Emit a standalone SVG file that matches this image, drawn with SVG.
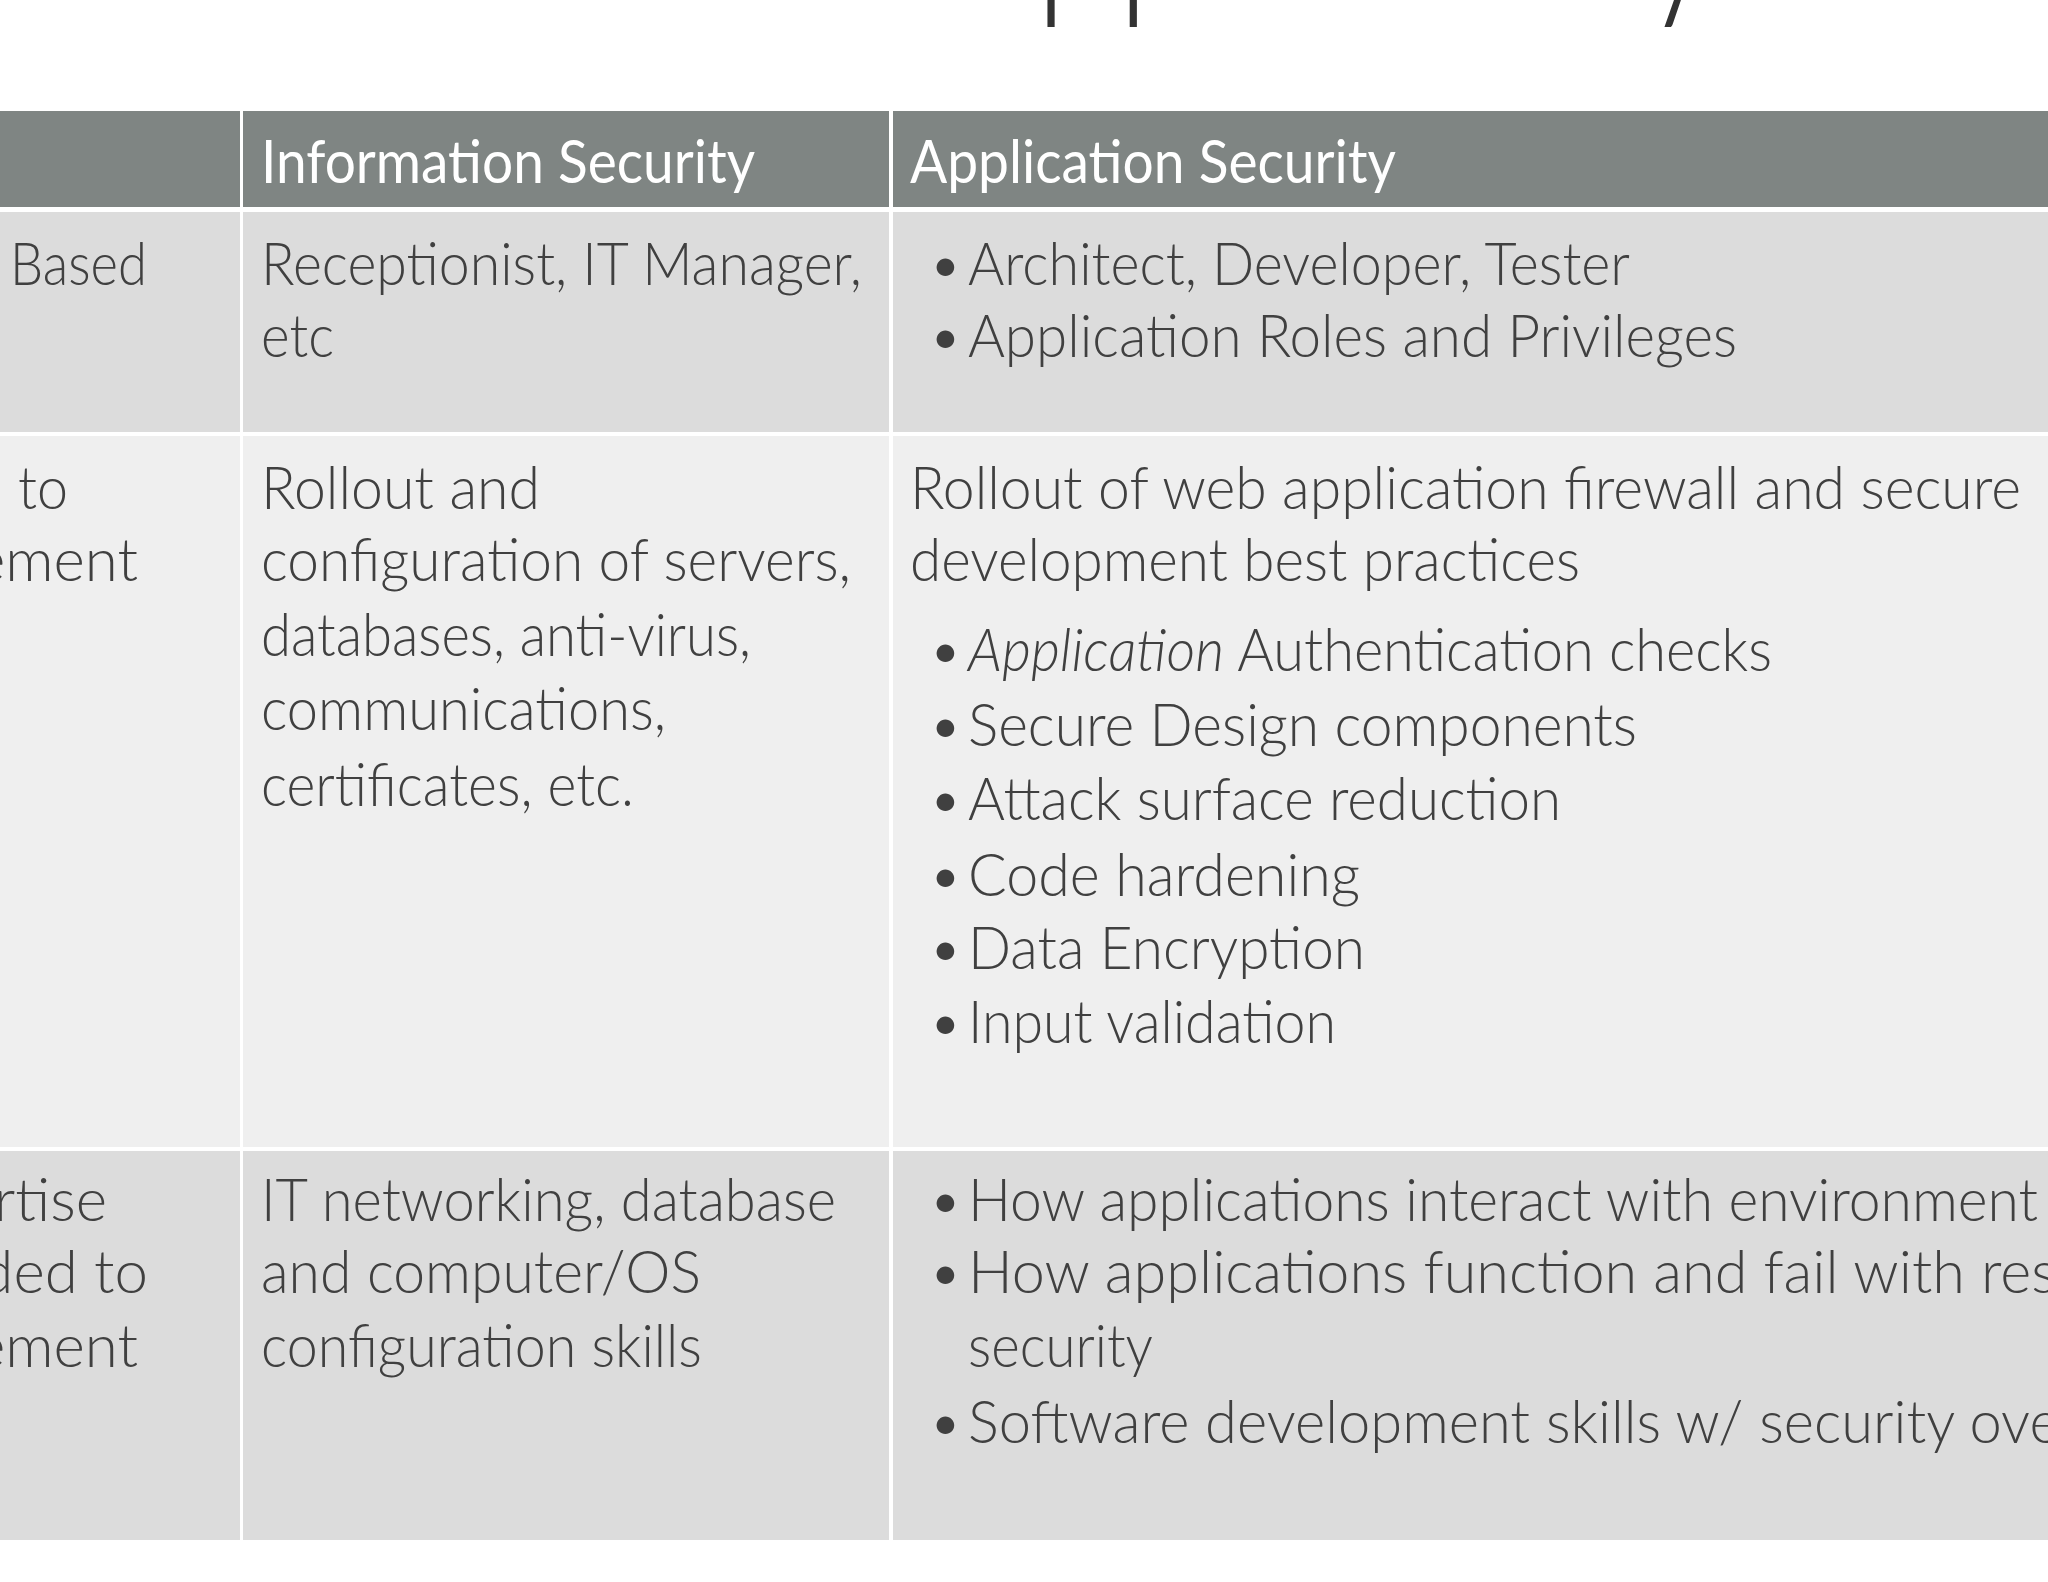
<svg xmlns="http://www.w3.org/2000/svg" width="2048" height="1582" viewBox="0 0 2048 1582">
<style>
text{font-family:Lato,"Open Sans","Liberation Sans",sans-serif;font-size:60px;fill:#404040;font-weight:300}
.h{fill:#ffffff;font-weight:400}
.d{fill:#dcdcdc}.l{fill:#efefef}
</style>
<rect width="2048" height="1582" fill="#fff"/>
<text x="993" y="-6" text-anchor="middle" style="font-size:190px;fill:#333" textLength="1450" lengthAdjust="spacingAndGlyphs">Infosec vs AppSecurity</text>
<g id="header">
<rect x="0" y="111" width="240" height="96" fill="#7f8583"/>
<rect x="243" y="111" width="646" height="96" fill="#7f8583"/>
<rect x="893" y="111" width="1155" height="96" fill="#7f8583"/>
<text class="h" x="261" y="183" textLength="494" lengthAdjust="spacingAndGlyphs">Information Security</text>
<text class="h" x="910" y="183" textLength="486" lengthAdjust="spacingAndGlyphs">Application Security</text>
</g>
<g id="row1">
<rect class="d" x="0" y="212" width="240" height="220"/>
<rect class="d" x="243" y="212" width="646" height="220"/>
<rect class="d" x="893" y="212" width="1155" height="220"/>
<text x="10" y="285" textLength="137" lengthAdjust="spacingAndGlyphs">Based</text>
<text x="261" y="285" textLength="601" lengthAdjust="spacingAndGlyphs">Receptionist, IT Manager,</text>
<text x="261" y="357" textLength="73" lengthAdjust="spacingAndGlyphs">etc</text>
<text x="928" y="285">•</text><text x="968" y="285" textLength="662" lengthAdjust="spacingAndGlyphs">Architect, Developer, Tester</text>
<text x="928" y="357">•</text><text x="968" y="357" textLength="769" lengthAdjust="spacingAndGlyphs">Application Roles and Privileges</text>
</g>
<g id="row2">
<rect class="l" x="0" y="436" width="240" height="711"/>
<rect class="l" x="243" y="436" width="646" height="711"/>
<rect class="l" x="893" y="436" width="1155" height="711"/>
<text x="18" y="509" textLength="50" lengthAdjust="spacingAndGlyphs">to</text>
<text x="138" y="581" text-anchor="end">ement</text>
<text x="261" y="509" textLength="279" lengthAdjust="spacingAndGlyphs">Rollout and</text>
<text x="261" y="581" textLength="590" lengthAdjust="spacingAndGlyphs">configuration of servers,</text>
<text x="261" y="656" textLength="490" lengthAdjust="spacingAndGlyphs">databases, anti-virus,</text>
<text x="261" y="730" textLength="405" lengthAdjust="spacingAndGlyphs">communications,</text>
<text x="261" y="806" textLength="373" lengthAdjust="spacingAndGlyphs">certificates, etc.</text>
<text x="910" y="509" textLength="1111" lengthAdjust="spacingAndGlyphs">Rollout of web application firewall and secure</text>
<text x="910" y="581" textLength="670" lengthAdjust="spacingAndGlyphs">development best practices</text>
<text x="928" y="671">•</text><text x="968" y="671" textLength="804" lengthAdjust="spacingAndGlyphs"><tspan font-style="italic">Application</tspan> Authentication checks</text>
<text x="928" y="746">•</text><text x="968" y="746" textLength="669" lengthAdjust="spacingAndGlyphs">Secure Design components</text>
<text x="928" y="820">•</text><text x="968" y="820" textLength="593" lengthAdjust="spacingAndGlyphs">Attack surface reduction</text>
<text x="928" y="896">•</text><text x="968" y="896" textLength="392" lengthAdjust="spacingAndGlyphs">Code hardening</text>
<text x="928" y="969">•</text><text x="968" y="969" textLength="397" lengthAdjust="spacingAndGlyphs">Data Encryption</text>
<text x="928" y="1043">•</text><text x="968" y="1043" textLength="368" lengthAdjust="spacingAndGlyphs">Input validation</text>
</g>
<g id="row3">
<rect class="d" x="0" y="1151" width="240" height="389"/>
<rect class="d" x="243" y="1151" width="646" height="389"/>
<rect class="d" x="893" y="1151" width="1155" height="389"/>
<text x="107" y="1221" text-anchor="end">rtise</text>
<text x="148" y="1293" text-anchor="end">ded to</text>
<text x="138" y="1367" text-anchor="end">ement</text>
<text x="261" y="1221" textLength="575" lengthAdjust="spacingAndGlyphs">IT networking, database</text>
<text x="261" y="1293" textLength="440" lengthAdjust="spacingAndGlyphs">and computer/OS</text>
<text x="261" y="1367" textLength="441" lengthAdjust="spacingAndGlyphs">configuration skills</text>
<text x="928" y="1221">•</text><text x="968" y="1221" textLength="1070" lengthAdjust="spacingAndGlyphs">How applications interact with environment</text>
<text x="928" y="1293">•</text><text x="968" y="1293" textLength="1270" lengthAdjust="spacingAndGlyphs">How applications function and fail with respect to</text>
<text x="968" y="1367" textLength="185" lengthAdjust="spacingAndGlyphs">security</text>
<text x="928" y="1443">•</text><text x="968" y="1443" textLength="1230" lengthAdjust="spacingAndGlyphs">Software development skills w/ security oversight</text>
</g>
</svg>
